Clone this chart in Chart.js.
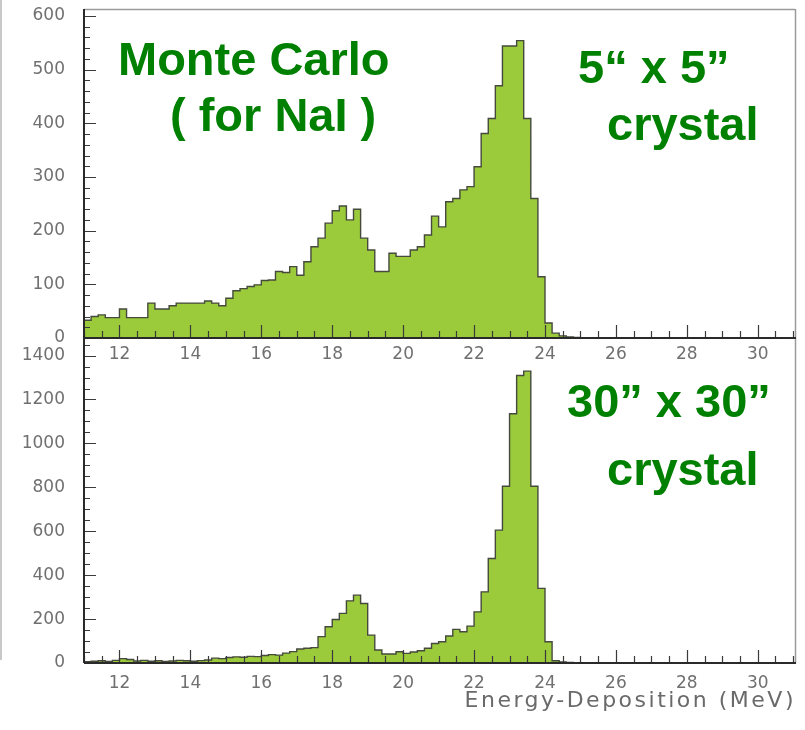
<!DOCTYPE html>
<html>
<head>
<meta charset="utf-8">
<script src="https://cdn.jsdelivr.net/npm/chart.js@4.4.1/dist/chart.umd.min.js"></script>
<style>
  html, body { margin: 0; padding: 0; background: #fff; }
  #wrap { position: relative; width: 805px; height: 730px; overflow: hidden; }
  #wrap canvas { position: absolute; left: 0; }
  #panelBottom { top: 330px; z-index: 1; }
  #panelTop { top: 0; z-index: 2; }
  #edge { position: absolute; left: 0; top: 0; width: 2px; height: 660px; background: #c8c8c8; z-index: 3; }
</style>
</head>
<body>
<div id="wrap">
  <div id="edge"></div>
  <canvas id="panelBottom" width="805" height="400"></canvas>
  <canvas id="panelTop" width="805" height="372"></canvas>
</div>
<script>
// Histogram bin low edges (MeV), 0.2 MeV wide; the last entry closes the final bin.
const binEdges = [
  11.0, 11.2, 11.4, 11.6, 11.8, 12.0, 12.2, 12.4, 12.6, 12.8,
  13.0, 13.2, 13.4, 13.6, 13.8, 14.0, 14.2, 14.4, 14.6, 14.8,
  15.0, 15.2, 15.4, 15.6, 15.8, 16.0, 16.2, 16.4, 16.6, 16.8,
  17.0, 17.2, 17.4, 17.6, 17.8, 18.0, 18.2, 18.4, 18.6, 18.8,
  19.0, 19.2, 19.4, 19.6, 19.8, 20.0, 20.2, 20.4, 20.6, 20.8,
  21.0, 21.2, 21.4, 21.6, 21.8, 22.0, 22.2, 22.4, 22.6, 22.8,
  23.0, 23.2, 23.4, 23.6, 23.8, 24.0, 24.2, 24.4, 24.6, 24.8,
  25.0
];

// Counts per bin, 5" x 5" NaI crystal
const counts5x5 = [
   33,  40,  43,  38,  38,  54,  38,  38,  38,  65,
   54,  54,  60,  65,  65,  65,  65,  69,  65,  60,
   74,  88,  92,  96,  99, 107, 108, 124, 122, 133,
  117, 142, 170, 186, 214, 237, 246, 220, 240, 186,
  164, 124, 124, 158, 152, 152, 164, 170, 192, 227,
  207, 254, 260, 276, 282, 319, 381, 409, 470, 544,
  544, 554, 409, 260, 114,  28,   9,   4,   2,   1
];

// Counts per bin, 30" x 30" NaI crystal
const counts30x30 = [
    6,   8,  10,   7,  12,  20,  16,   9,  12,   8,
   10,   7,   9,  12,  10,   8,  11,  14,  22,  20,
   25,  28,  26,  30,  29,  34,  38,  36,  45,  52,
   64,  67,  70, 120, 165, 198, 226, 283, 309, 271,
  127,  59,  41,  41,  51,  44,  50,  56,  67,  89,
   97, 123, 153, 142, 168, 233, 324, 476, 605, 805,
 1135,1309,1329, 805, 340,  97,  10,   5,   3,   1
];

// Axis tick labels
const xTickLabels = [12, 14, 16, 18, 20, 22, 24, 26, 28, 30];
const yTickLabels5x5 = [0, 100, 200, 300, 400, 500, 600];
const yTickLabels30x30 = [0, 200, 400, 600, 800, 1000, 1200, 1400];

const FILL = '#9bcb3b';
const EDGE = '#454a3c';
const GREEN = '#008000';
const TICK_FONT = { family: 'DejaVu Sans', size: 17 };
const TICK_COLOR = '#707070';

function histogramPoints(counts) {
  return binEdges.map((e, i) => ({ x: e, y: i < counts.length ? counts[i] : 0 }));
}

// Frame, inward tick marks (major + minor) drawn over the filled histogram
const panelFrame = {
  id: 'panelFrame',
  afterDatasetsDraw(chart, args, o) {
    const { ctx, chartArea: a, scales: { x, y } } = chart;
    const L = Math.round(a.left), R = Math.round(a.right), T = Math.round(a.top), B = Math.round(a.bottom);
    ctx.save();
    // light outer edges (top, right)
    ctx.strokeStyle = '#9a9a9a';
    ctx.lineWidth = 1.5;
    ctx.beginPath();
    if (o.drawTop) { ctx.moveTo(L, T + 0.5); ctx.lineTo(R, T + 0.5); }
    ctx.moveTo(R + 0.5, T); ctx.lineTo(R + 0.5, B);
    ctx.stroke();

    // x ticks
    ctx.strokeStyle = '#3a3a3a';
    ctx.lineWidth = 1.2;
    ctx.beginPath();
    for (let k = Math.ceil(x.min / o.xMinor); k * o.xMinor <= x.max + 1e-9; k++) {
      const v = k * o.xMinor;
      const px = Math.round(x.getPixelForValue(v)) + 0.5;
      const major = xTickLabels.includes(v);
      ctx.moveTo(px, B);
      ctx.lineTo(px, B - (major ? 13 : 7));
    }
    // y ticks
    for (let k = 1; k * o.yMinor <= y.max + 1e-9; k++) {
      const v = k * o.yMinor;
      const py = Math.round(y.getPixelForValue(v)) + 0.5;
      const major = o.yMajor.includes(v);
      ctx.moveTo(L, py);
      ctx.lineTo(L + (major ? 12 : 6), py);
    }
    ctx.stroke();

    // main axes
    ctx.strokeStyle = '#2a2a2a';
    ctx.lineWidth = 2;
    ctx.beginPath();
    ctx.moveTo(L, T); ctx.lineTo(L, B);
    ctx.moveTo(L, B); ctx.lineTo(R + 1, B);
    ctx.stroke();
    ctx.restore();
  }
};

// Green annotations and the energy axis caption
const panelText = {
  id: 'panelText',
  afterDraw(chart, args, o) {
    const ctx = chart.ctx;
    ctx.save();
    ctx.fillStyle = GREEN;
    ctx.textAlign = 'left';
    ctx.textBaseline = 'alphabetic';
    ctx.font = 'bold 47px "Liberation Sans", Arial, sans-serif';
    (o.notes || []).forEach(n => ctx.fillText(n.text, n.x, n.y));
    if (o.caption) {
      ctx.fillStyle = '#6a6a6a';
      ctx.font = '22px "DejaVu Sans", sans-serif';
      ctx.textAlign = 'right';
      ctx.letterSpacing = '2.5px';
      ctx.fillText(o.caption.text, o.caption.x, o.caption.y);
    }
    ctx.restore();
  }
};

function buildPanel(id, counts, cfg) {
  return new Chart(document.getElementById(id), {
    type: 'line',
    data: {
      datasets: [{
        data: histogramPoints(counts),
        stepped: 'before',
        fill: 'origin',
        backgroundColor: FILL,
        borderColor: EDGE,
        borderWidth: 1.4,
        pointRadius: 0,
        tension: 0
      }]
    },
    options: {
      responsive: false,
      animation: false,
      devicePixelRatio: 1,
      events: [],
      layout: { padding: { top: cfg.padTop, right: 10, left: 0, bottom: 0 } },
      plugins: {
        legend: { display: false },
        tooltip: { enabled: false },
        panelFrame: { xMinor: 0.5, yMinor: cfg.yMinor, yMajor: cfg.yTicks, drawTop: cfg.drawTop },
        panelText: { notes: cfg.notes, caption: cfg.caption }
      },
      scales: {
        x: {
          type: 'linear',
          min: 11,
          max: 31.05,
          grid: { display: false, drawTicks: false },
          border: { display: false },
          ticks: { font: TICK_FONT, color: TICK_COLOR, padding: cfg.xPad, autoSkip: false, maxRotation: 0,
                   callback: v => String(v) },
          afterBuildTicks: s => { s.ticks = xTickLabels.map(v => ({ value: v })); },
          afterFit: s => { s.height = cfg.xAxisHeight; s.paddingLeft = 0; s.paddingRight = 0; }
        },
        y: {
          type: 'linear',
          min: 0,
          max: cfg.yMax,
          grid: { display: false, drawTicks: false },
          border: { display: false },
          ticks: { font: TICK_FONT, color: TICK_COLOR, padding: 19, callback: v => String(v) },
          afterBuildTicks: s => { s.ticks = cfg.yTicks.map(v => ({ value: v })); },
          afterFit: s => { s.width = 84; s.paddingTop = 0; s.paddingBottom = 0; }
        }
      }
    },
    plugins: [panelFrame, panelText]
  });
}

// upper panel: 5" x 5"
buildPanel('panelTop', counts5x5, {
  padTop: 9, xAxisHeight: 34, xPad: 6, yMax: 613, yMinor: 20,
  yTicks: yTickLabels5x5, drawTop: true,
  notes: [
    { text: 'Monte Carlo', x: 118, y: 75 },
    { text: '( for NaI )', x: 170, y: 131 },
    { text: '5\u201C x 5\u201D', x: 578, y: 83 },
    { text: 'crystal', x: 607, y: 140 }
  ]
});

// lower panel: 30" x 30" (canvas starts 330px down the page)
buildPanel('panelBottom', counts30x30, {
  padTop: 8, xAxisHeight: 67, xPad: 10, yMax: 1480, yMinor: 50,
  yTicks: yTickLabels30x30, drawTop: false,
  notes: [
    { text: '30\u201D x 30\u201D', x: 567, y: 87 },
    { text: 'crystal', x: 607, y: 155 }
  ],
  caption: { text: 'Energy-Deposition (MeV)', x: 796, y: 377 }
});
</script>
</body>
</html>
